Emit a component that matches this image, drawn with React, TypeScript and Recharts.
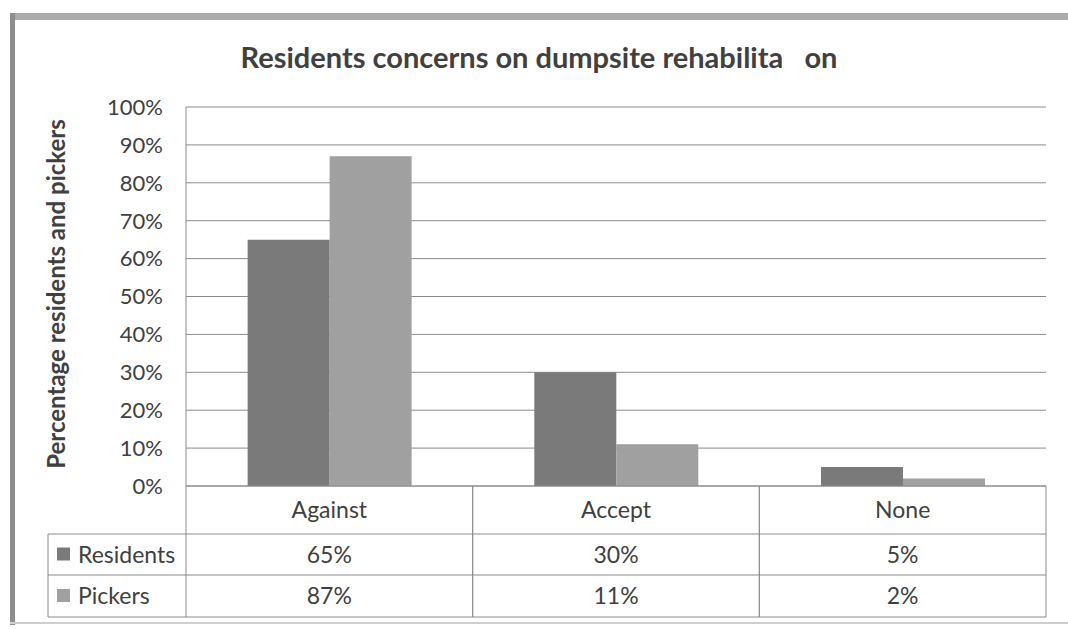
import { BarChart, Bar, XAxis, YAxis, CartesianGrid } from 'recharts';

const categories = ['Against', 'Accept', 'None'];
const residents = [65, 30, 5];
const pickers = [87, 11, 2];
const yTicks = [0, 10, 20, 30, 40, 50, 60, 70, 80, 90, 100];

const series = [
  { key: 'residents', name: 'Residents', values: residents, color: '#7a7a7a' },
  { key: 'pickers', name: 'Pickers', values: pickers, color: '#a0a0a0' },
];

const rows = categories.map((name, i) => ({
  name,
  residents: residents[i],
  pickers: pickers[i],
}));

const W = 1068;
const H = 629;
const PLOT_LEFT = 186;
const PLOT_RIGHT = 1046;
const PLOT_TOP = 107;
const PLOT_BOTTOM = 486;
const BAND = (PLOT_RIGHT - PLOT_LEFT) / categories.length;
const ROW1 = 48;
const ROW2 = 41;
const ROW3 = 42;
const LEGEND_LEFT = 48;

const FONT = 'Lato, "Open Sans", sans-serif';
const TEXT = '#404040';
const LINE = '#8c8c8c';
const TABLE_SIZE = 23;

function TableTick(props: any) {
  const { x, payload, index } = props;
  const y0 = PLOT_BOTTOM;
  const left = x - BAND / 2;
  const right = x + BAND / 2;
  const r1 = y0 + ROW1;
  const r2 = r1 + ROW2;
  const r3 = r2 + ROW3;
  return (
    <g>
      <line x1={left} x2={left} y1={y0} y2={r3} stroke={LINE} />
      <line x1={right} x2={right} y1={y0} y2={r3} stroke={LINE} />
      <line x1={left} x2={right} y1={r1} y2={r1} stroke={LINE} />
      <line x1={left} x2={right} y1={r2} y2={r2} stroke={LINE} />
      <line x1={left} x2={right} y1={r3} y2={r3} stroke={LINE} />
      <text x={x} y={y0 + ROW1 / 2} dy="0.35em" textAnchor="middle" fill={TEXT} fontSize={TABLE_SIZE} fontFamily={FONT}>
        {payload.value}
      </text>
      {series.map((s, si) => (
        <text
          key={s.key}
          x={x}
          y={si === 0 ? r1 + ROW2 / 2 : r2 + ROW3 / 2}
          dy="0.35em"
          textAnchor="middle"
          fill={TEXT}
          fontSize={TABLE_SIZE}
          fontFamily={FONT}
        >
          {s.values[index]}%
        </text>
      ))}
      {index === 0 && (
        <g>
          <line x1={LEGEND_LEFT} x2={left} y1={r1} y2={r1} stroke={LINE} />
          <line x1={LEGEND_LEFT} x2={left} y1={r2} y2={r2} stroke={LINE} />
          <line x1={LEGEND_LEFT} x2={left} y1={r3} y2={r3} stroke={LINE} />
          <line x1={LEGEND_LEFT} x2={LEGEND_LEFT} y1={r1} y2={r3} stroke={LINE} />
          {series.map((s, si) => {
            const cy = si === 0 ? r1 + ROW2 / 2 : r2 + ROW3 / 2;
            return (
              <g key={s.key}>
                <rect x={57} y={cy - 7} width={13} height={13} fill={s.color} />
                <text x={78} y={cy} dy="0.35em" fill={TEXT} fontSize={TABLE_SIZE} fontFamily={FONT}>
                  {s.name}
                </text>
              </g>
            );
          })}
        </g>
      )}
    </g>
  );
}

function AxisTitle() {
  return (
    <text
      x={57}
      y={294}
      transform="rotate(-90 57 294)"
      textAnchor="middle"
      dy="0.35em"
      fill={TEXT}
      fontSize={24}
      fontWeight={700}
      fontFamily={FONT}
    >
      Percentage residents and pickers
    </text>
  );
}

export default function App() {
  return (
    <div style={{ position: 'absolute', left: 0, top: 0, width: W, height: H, background: '#fff', overflow: 'hidden' }}>
      {/* page frame */}
      <div style={{ position: 'absolute', left: 10, top: 13, width: W - 10, height: 7, background: '#ababab' }} />
      <div style={{ position: 'absolute', left: 10, top: 13, width: 5, height: 612, background: '#8e8e8e' }} />
      <div style={{ position: 'absolute', left: 10, top: 622, width: W - 10, height: 2, background: '#cfcfcf' }} />
      <div
        style={{
          position: 'absolute',
          left: 10,
          width: W - 10,
          top: 39,
          textAlign: 'center',
          fontFamily: FONT,
          fontWeight: 700,
          fontSize: 29,
          color: TEXT,
          whiteSpace: 'pre',
        }}
      >
        {'Residents concerns on dumpsite rehabilita   on'}
      </div>
      <div style={{ position: 'absolute', left: 0, top: 0 }}>
        <BarChart
          width={W}
          height={H}
          data={rows}
          barCategoryGap="21.5%"
          barGap={0}
          margin={{ top: PLOT_TOP, right: W - PLOT_RIGHT, bottom: 0, left: 96 }}
        >
          <CartesianGrid vertical={false} stroke={LINE} strokeWidth={1} />
          <YAxis
            width={90}
            domain={[0, 100]}
            ticks={yTicks}
            interval={0}
            tickFormatter={(v: number) => `${v}%`}
            tickLine={false}
            tickSize={0}
            tickMargin={23}
            axisLine={{ stroke: LINE }}
            tick={{ fill: TEXT, fontSize: 22, fontFamily: FONT }}
            label={{ content: () => <AxisTitle /> }}
          />
          <XAxis
            dataKey="name"
            height={H - PLOT_BOTTOM}
            tickLine={false}
            tickSize={0}
            axisLine={{ stroke: LINE }}
            interval={0}
            tick={<TableTick />}
          />
          {series.map((s) => (
            <Bar key={s.key} dataKey={s.key} name={s.name} fill={s.color} isAnimationActive={false} />
          ))}
        </BarChart>
      </div>
    </div>
  );
}
